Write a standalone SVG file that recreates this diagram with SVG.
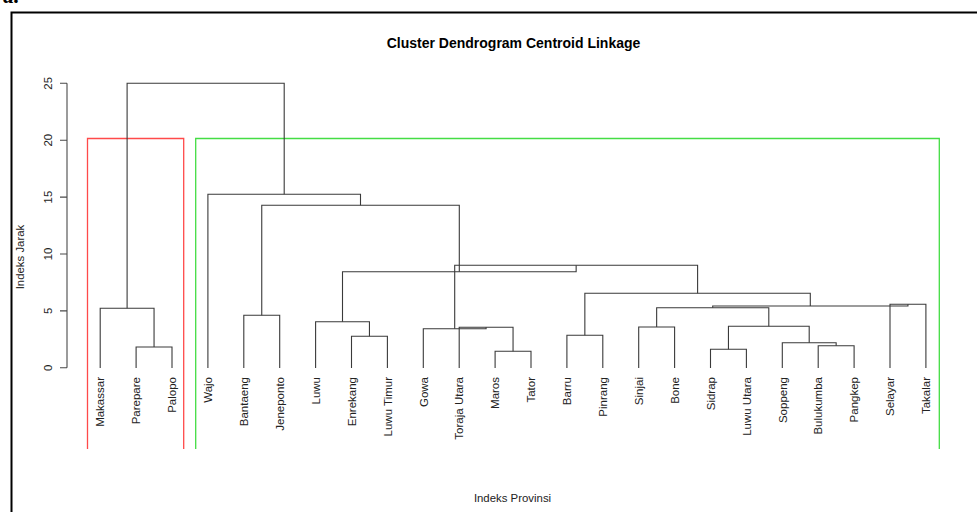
<svg xmlns="http://www.w3.org/2000/svg" width="977" height="512" viewBox="0 0 977 512">
<style>
  text { font-family: "Liberation Sans", Arial, sans-serif; fill: #222; }
  .lbl { font-size: 11.5px; text-anchor: end; }
  .tick { font-size: 11.4px; text-anchor: middle; }
  .axt { font-size: 11.4px; text-anchor: middle; }
  .title { font-size: 14px; font-weight: bold; text-anchor: middle; fill: #000; }
  .link { fill: none; stroke: #3a3a3a; stroke-width: 1.1; }
  .axis { fill: none; stroke: #4a4a4a; stroke-width: 1.1; }
</style>
<rect width="977" height="512" fill="#fff"/>
<text x="3" y="3" style="font-family:'Liberation Serif',serif;font-size:22px;font-weight:bold;font-style:italic;fill:#000">a.</text>
<rect x="11.5" y="12.5" width="990" height="530" fill="none" stroke="#000" stroke-width="2"/>
<text class="title" x="513.5" y="47.5">Cluster Dendrogram Centroid Linkage</text>
<text class="axt" x="512.5" y="501.5">Indeks Provinsi</text>
<text class="axt" transform="translate(24.3,257) rotate(-90)">Indeks Jarak</text>
<g id="y-axis">
  <path class="axis" d="M67 83.3 V367.8 M60 83.3 H67 M60 140.2 H67 M60 197.1 H67 M60 254 H67 M60 310.9 H67 M60 367.8 H67"/>
  <text class="tick" transform="translate(51.5,83.3) rotate(-90)">25</text>
  <text class="tick" transform="translate(51.5,140.2) rotate(-90)">20</text>
  <text class="tick" transform="translate(51.5,197.1) rotate(-90)">15</text>
  <text class="tick" transform="translate(51.5,254) rotate(-90)">10</text>
  <text class="tick" transform="translate(51.5,310.9) rotate(-90)">5</text>
  <text class="tick" transform="translate(51.5,367.8) rotate(-90)">0</text>
</g>
<g id="cluster-boxes">
  <path id="cluster-1" d="M87.5 449 V138.5 H183.7 V449" fill="none" stroke="#ff4a4a" stroke-width="1.3"/>
  <path id="cluster-2" d="M195.7 449 V138.5 H939.3 V449" fill="none" stroke="#44dd44" stroke-width="1.3"/>
</g>
<g id="leaves">
  <g id="leaf-makassar"><text class="lbl" transform="translate(104.4,377) rotate(-90)">Makassar</text></g>
  <g id="leaf-parepare"><text class="lbl" transform="translate(140.3,377) rotate(-90)">Parepare</text></g>
  <g id="leaf-palopo"><text class="lbl" transform="translate(176.2,377) rotate(-90)">Palopo</text></g>
  <g id="leaf-wajo"><text class="lbl" transform="translate(212.1,377) rotate(-90)">Wajo</text></g>
  <g id="leaf-bantaeng"><text class="lbl" transform="translate(248,377) rotate(-90)">Bantaeng</text></g>
  <g id="leaf-jeneponto"><text class="lbl" transform="translate(283.9,377) rotate(-90)">Jeneponto</text></g>
  <g id="leaf-luwu"><text class="lbl" transform="translate(319.8,377) rotate(-90)">Luwu</text></g>
  <g id="leaf-enrekang"><text class="lbl" transform="translate(355.7,377) rotate(-90)">Enrekang</text></g>
  <g id="leaf-luwu-timur"><text class="lbl" transform="translate(391.6,377) rotate(-90)">Luwu Timur</text></g>
  <g id="leaf-gowa"><text class="lbl" transform="translate(427.5,377) rotate(-90)">Gowa</text></g>
  <g id="leaf-toraja-utara"><text class="lbl" transform="translate(463.4,377) rotate(-90)">Toraja Utara</text></g>
  <g id="leaf-maros"><text class="lbl" transform="translate(499.3,377) rotate(-90)">Maros</text></g>
  <g id="leaf-tator"><text class="lbl" transform="translate(535.2,377) rotate(-90)">Tator</text></g>
  <g id="leaf-barru"><text class="lbl" transform="translate(571.1,377) rotate(-90)">Barru</text></g>
  <g id="leaf-pinrang"><text class="lbl" transform="translate(607,377) rotate(-90)">Pinrang</text></g>
  <g id="leaf-sinjai"><text class="lbl" transform="translate(642.9,377) rotate(-90)">Sinjai</text></g>
  <g id="leaf-bone"><text class="lbl" transform="translate(678.8,377) rotate(-90)">Bone</text></g>
  <g id="leaf-sidrap"><text class="lbl" transform="translate(714.7,377) rotate(-90)">Sidrap</text></g>
  <g id="leaf-luwu-utara"><text class="lbl" transform="translate(750.6,377) rotate(-90)">Luwu Utara</text></g>
  <g id="leaf-soppeng"><text class="lbl" transform="translate(786.5,377) rotate(-90)">Soppeng</text></g>
  <g id="leaf-bulukumba"><text class="lbl" transform="translate(822.4,377) rotate(-90)">Bulukumba</text></g>
  <g id="leaf-pangkep"><text class="lbl" transform="translate(858.3,377) rotate(-90)">Pangkep</text></g>
  <g id="leaf-selayar"><text class="lbl" transform="translate(894.2,377) rotate(-90)">Selayar</text></g>
  <g id="leaf-takalar"><text class="lbl" transform="translate(930.1,377) rotate(-90)">Takalar</text></g>
</g>
<g id="connectors" class="link">
  <path class="link" d="M136.1 368 V347 H172 V368"/>
  <path class="link" d="M100.2 368 V308.3 H154.05 V347"/>
  <path class="link" d="M243.8 368 V315.3 H279.7 V368"/>
  <path class="link" d="M351.5 368 V336.3 H387.4 V368"/>
  <path class="link" d="M315.6 368 V321.7 H369.45 V336.3"/>
  <path class="link" d="M495.1 368 V351.3 H531 V368"/>
  <path class="link" d="M459.2 368 V327.3 H513.05 V351.3"/>
  <path class="link" d="M423.3 368 V328.7 H486.1 V327.3"/>
  <path class="link" d="M566.9 368 V335.3 H602.8 V368"/>
  <path class="link" d="M638.7 368 V327 H674.6 V368"/>
  <path class="link" d="M710.5 368 V349.3 H746.4 V368"/>
  <path class="link" d="M818.2 368 V345.7 H854.1 V368"/>
  <path class="link" d="M782.3 368 V342.7 H836.15 V345.7"/>
  <path class="link" d="M728.45 349.3 V326.3 H809.2 V342.7"/>
  <path class="link" d="M656.65 327 V307.7 H768.8 V326.3"/>
  <path class="link" d="M890 368 V304.3 H925.9 V368"/>
  <path class="link" d="M712.7 307.7 V306 H907.95 V304.3"/>
  <path class="link" d="M584.85 335.3 V293.3 H810.3 V306"/>
  <path class="link" d="M454.7 328.7 V265.3 H697.6 V293.3"/>
  <path class="link" d="M342.5 321.7 V271.7 H576.15 V265.3"/>
  <path class="link" d="M261.75 315.3 V205.3 H459.3 V271.7"/>
  <path class="link" d="M207.9 368 V194.3 H360.5 V205.3"/>
  <path class="link" d="M127.1 308.3 V83.3 H284.2 V194.3"/>
</g>
</svg>
